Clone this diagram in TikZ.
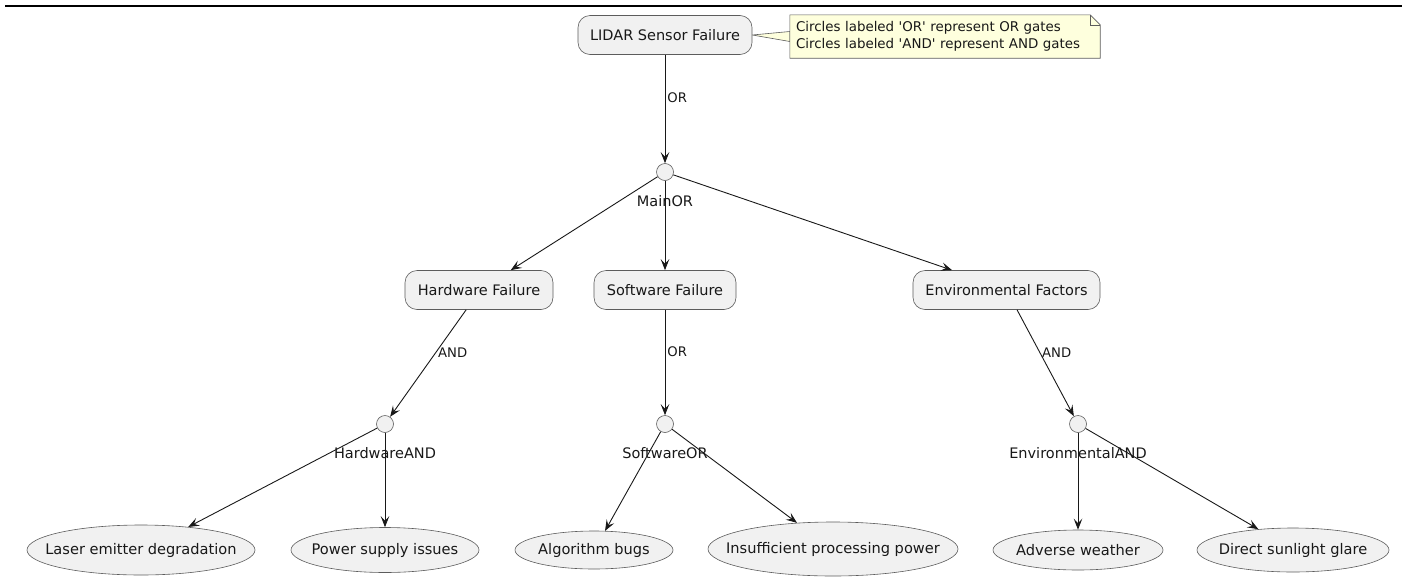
\documentclass[tikz,border=0pt]{standalone}
\usepackage{fontspec}
\setmainfont{DejaVu Sans}
\usetikzlibrary{arrows.meta,shapes.geometric,calc,backgrounds}
\definecolor{nodefill}{HTML}{F1F1F1}
\definecolor{nodeline}{HTML}{5C5C5C}
\definecolor{arrline}{HTML}{181818}
\definecolor{notefill}{HTML}{FEFFDD}
\begin{document}
\begin{tikzpicture}[x=1pt,y=-1pt,
 box/.style={draw=nodeline, fill=nodefill, line width=0.6pt, rounded corners=12pt, minimum height=39pt, inner xsep=0pt, text=arrline, font=\fontsize{14.5}{16}\selectfont},
 cause/.style={ellipse, draw=nodeline, fill=nodefill, line width=0.6pt, inner sep=0pt},
 causetxt/.style={text=arrline, font=\fontsize{14.6}{16}\selectfont},
 gate/.style={circle, draw=nodeline, fill=nodefill, line width=0.6pt, minimum size=17pt, inner sep=0pt},
 gatelbl/.style={anchor=base, inner sep=0pt, text=arrline, font=\fontsize{14.5}{16}\selectfont},
 arr/.style={draw=arrline, line width=0.9pt, -{Stealth[length=11pt,width=8.5pt,inset=4.5pt]}},
 edgelbl/.style={pos=0.4, anchor=west, inner sep=2pt, text=arrline, font=\fontsize{13.2}{15}\selectfont},
 notebox/.style={align=left, text width=298pt, inner xsep=6pt, minimum height=43pt, text=arrline, font=\fontsize{13.4}{17}\selectfont},
 noteline/.style={draw=nodeline, fill=notefill, line width=0.6pt},
]
\useasboundingbox (0,0) rectangle (1403,576);
\draw[line width=1.3pt, black] (5,6) -- (1402,6);

% top
\node[box, minimum width=174pt] (lidar) at (665,35) {LIDAR Sensor Failure};
\node[notebox] (note) at (945,36.5) {Circles labeled \textquotesingle OR\textquotesingle{} represent OR gates\\Circles labeled \textquotesingle AND\textquotesingle{} represent AND gates};
\begin{scope}[on background layer]
\path[noteline] (lidar.east) -- ([yshift=5pt]note.west) -- ([yshift=-5pt]note.west) -- cycle;
\path[noteline] (note.north west) -- ([xshift=-10pt]note.north east) -- ([yshift=-10pt]note.north east) -- (note.south east) -- (note.south west) -- cycle;
\draw[draw=nodeline, line width=0.6pt] ([xshift=-10pt]note.north east) -- ([xshift=-10pt,yshift=-10pt]note.north east) -- ([yshift=-10pt]note.north east);
\end{scope}

% gates
\node[gate] (mainor) at (665,172) {};
\node[gatelbl] (mainorlbl) at ($(mainor)+(0,34)$) {MainOR};

% middle row
\node[box, minimum width=148pt] (hw) at (479,290) {Hardware Failure};
\node[box, minimum width=142pt] (sw) at (665,290) {Software Failure};
\node[box, minimum width=187pt] (env) at (1006.5,290) {Environmental Factors};

\node[gate] (hwand) at (385,424) {};
\node[gatelbl] (hwandlbl) at ($(hwand)+(0,34)$) {HardwareAND};
\node[gate] (swor) at (665,424) {};
\node[gatelbl] (sworlbl) at ($(swor)+(0,34)$) {SoftwareOR};
\node[gate] (envand) at (1078,424) {};
\node[gatelbl] (envandlbl) at ($(envand)+(0,34)$) {EnvironmentalAND};

% bottom row
\node[cause, minimum width=228pt, minimum height=50pt, label={[causetxt]center:Laser emitter degradation}] (laser) at (141,550) {};
\node[cause, minimum width=188pt, minimum height=45pt, label={[causetxt]center:Power supply issues}] (power) at (385,550) {};
\node[cause, minimum width=158pt, minimum height=38pt, label={[causetxt]center:Algorithm bugs}] (algo) at (594,550) {};
\node[cause, minimum width=250pt, minimum height=54pt, label={[causetxt]center:Insufficient processing power}] (insuff) at (833,549) {};
\node[cause, minimum width=170pt, minimum height=40pt, label={[causetxt]center:Adverse weather}] (adverse) at (1078,550) {};
\node[cause, minimum width=192pt, minimum height=44pt, label={[causetxt]center:Direct sunlight glare}] (direct) at (1293,550) {};

% connectors
\draw[arr] (lidar) -- node[edgelbl]{OR} (mainor);
\draw[arr] (mainor) -- (hw.32.8);
\draw[arr] (mainor) -- (sw);
\draw[arr] (mainor) -- (env.160.5);
\draw[arr] (hw.-123) -- node[edgelbl]{AND} (hwand);
\draw[arr] (sw) -- node[edgelbl]{OR} (swor);
\draw[arr] (env.-62.3) -- node[edgelbl]{AND} (envand);
\draw[arr] (hwand) -- (laser.26.6);
\draw[arr] (hwand) -- (power);
\draw[arr] (swor) -- (algo.60);
\draw[arr] (swor) -- (insuff.144.2);
\draw[arr] (envand) -- (adverse);
\draw[arr] (envand) -- (direct.149.7);
\end{tikzpicture}
\end{document}
